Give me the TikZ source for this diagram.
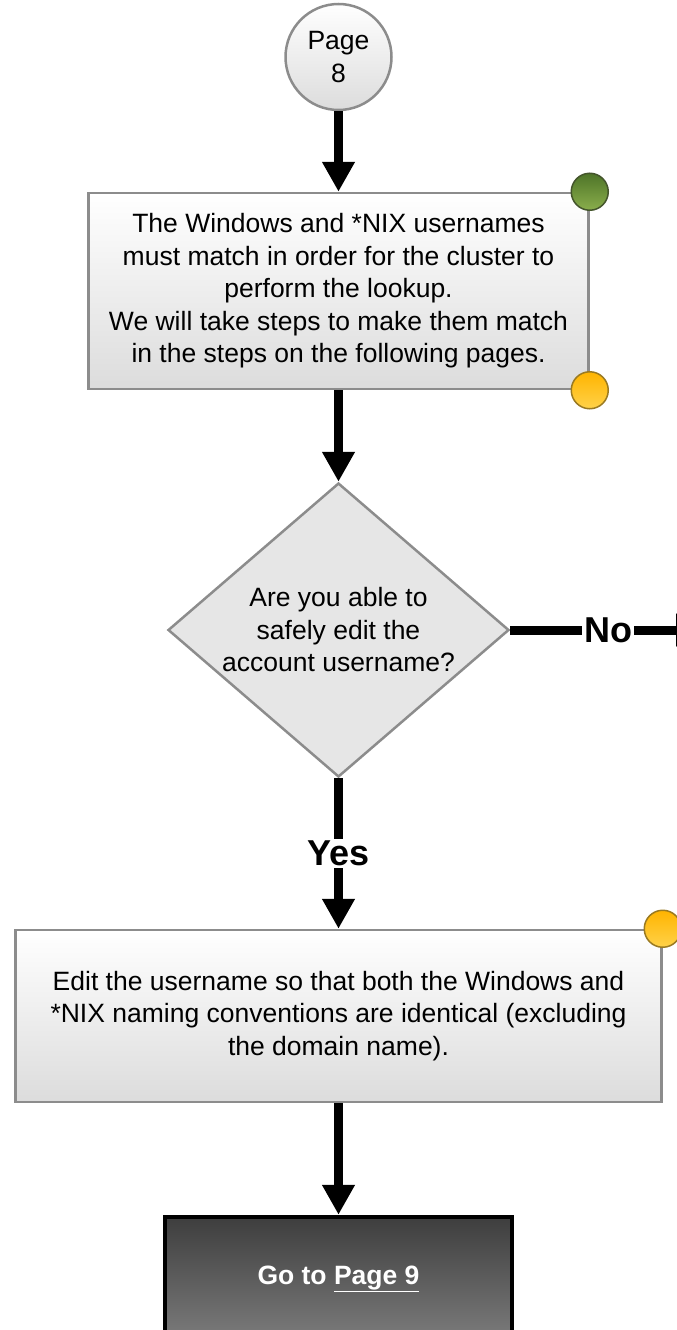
\documentclass[tikz,border=0pt]{standalone}
\usepackage{fontspec}
\setmainfont{Liberation Sans}
\usetikzlibrary{arrows.meta,shapes.geometric}

\definecolor{edgegray}{HTML}{8C8C8C}
\definecolor{boxlow}{HTML}{DCDCDC}
\definecolor{diafill}{HTML}{E6E6E6}
\definecolor{greentop}{HTML}{4E7428}
\definecolor{greenlow}{HTML}{8AAE4C}
\definecolor{greenedge}{HTML}{44552C}
\definecolor{yellowtop}{HTML}{FFB400}
\definecolor{yellowlow}{HTML}{FFD24A}
\definecolor{yellowedge}{HTML}{9A7A22}
\definecolor{darktop}{HTML}{3E3E3E}
\definecolor{darklow}{HTML}{7C7C7C}

\begin{document}
\begin{tikzpicture}[x=1pt,y=-1pt,
  bodytext/.style={font=\fontsize{26.5}{32.5}\selectfont, text=black},
  pagecircle/.style={circle, draw=edgegray, line width=2.5pt, top color=white,
    bottom color=boxlow, minimum size=106pt, inner sep=0pt, align=center,
    bodytext},
  procbox/.style={rectangle, draw=edgegray, line width=2.5pt, top color=white,
    bottom color=boxlow, inner sep=0pt, align=center, bodytext},
  decision/.style={diamond, draw=edgegray, line width=2.5pt, fill=diafill,
    inner sep=0pt, minimum width=341pt, minimum height=294pt},
  greendot/.style={circle, draw=greenedge, line width=1.5pt, top color=greentop,
    bottom color=greenlow, minimum size=37pt, inner sep=0pt},
  yellowdot/.style={circle, draw=yellowedge, line width=1.5pt, top color=yellowtop,
    bottom color=yellowlow, minimum size=37pt, inner sep=0pt},
  gobox/.style={rectangle, draw=black, line width=4.5pt, top color=darktop,
    bottom color=darklow, inner sep=0pt, align=center, text=white,
    font=\fontsize{26.5}{30}\selectfont\bfseries},
  flow/.style={line width=9pt, -{Triangle[length=30pt,width=31pt]}},
  branch/.style={font=\fontsize{36}{40}\selectfont\bfseries, fill=white,
    inner sep=2pt}
]
\useasboundingbox (0,0) rectangle (677,1330);
\clip (0,0) rectangle (677,1330);

% start connector
\node[pagecircle] (p8) at (338.5,57) {Page\\8};

% explanation box with its status dots
\node[procbox, minimum width=500pt, minimum height=196pt] (info) at (338.5,291)
  {The Windows and *NIX usernames\\must match in order for the cluster to\\perform the lookup.\\We will take steps to make them match\\in the steps on the following pages.};
\node[greendot] (infog) at (info.north east) {};
\node[yellowdot] (infoy) at (info.south east) {};

% decision
\node[decision, label={[bodytext, align=center]center:{Are you able to\\safely edit the\\account username?}}] (ask) at (338.5,630) {};

% action box
\node[procbox, minimum width=646pt, minimum height=172pt] (edit) at (338.5,1016)
  {Edit the username so that both the Windows and\\*NIX naming conventions are identical (excluding\\the domain name).};
\node[yellowdot] (edity) at (edit.north east) {};

% off-page link
\node[gobox, minimum width=347pt, minimum height=124pt] (next) at (338.5,1279)
  {Go to \underline{Page 9}};

% exit to the right
\coordinate (noexit) at (706,630);

% connectors
\draw[flow] (p8.south) -- (info.north);
\draw[flow] (info.south) -- (ask.north);
\draw[flow] (ask.south) -- node[branch] {Yes} (edit.north);
\draw[flow] (ask.east) -- node[branch] {No} (noexit);
\draw[flow] (edit.south) -- (next.north);
\end{tikzpicture}
\end{document}
